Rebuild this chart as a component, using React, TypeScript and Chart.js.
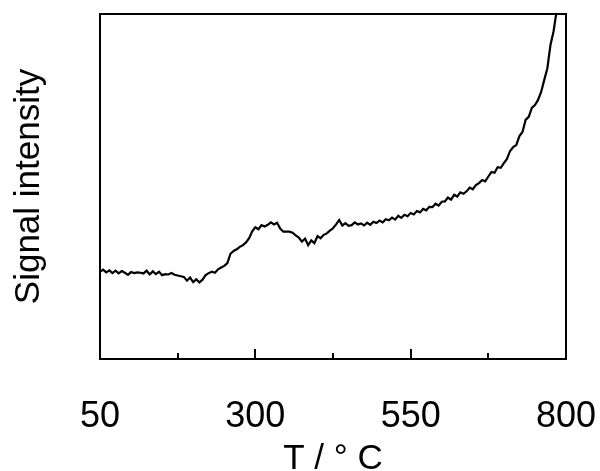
import React, { useEffect, useRef } from "react";
import { Chart, registerables } from "chart.js";

Chart.register(...registerables);

// Temperature axis (°C)
const temperatures: number[] = [
  50, 55, 60, 65, 70, 75, 80, 85, 90, 95,
  100, 105, 110, 115, 120, 125, 130, 135, 140, 145,
  150, 155, 160, 165, 170, 175, 180, 185, 190, 195,
  200, 205, 210, 215, 220, 225, 230, 235, 240, 245,
  250, 255, 260, 265, 270, 275, 280, 285, 290, 295,
  300, 305, 310, 315, 320, 325, 330, 335, 340, 345,
  350, 355, 360, 365, 370, 375, 380, 385, 390, 395,
  400, 405, 410, 415, 420, 425, 430, 435, 440, 445,
  450, 455, 460, 465, 470, 475, 480, 485, 490, 495,
  500, 505, 510, 515, 520, 525, 530, 535, 540, 545,
  550, 555, 560, 565, 570, 575, 580, 585, 590, 595,
  600, 605, 610, 615, 620, 625, 630, 635, 640, 645,
  650, 655, 660, 665, 670, 675, 680, 685, 690, 695,
  700, 705, 710, 715, 720, 725, 730, 735, 740, 745,
  750, 755, 760, 765, 770, 775, 780, 785, 790,
];

// Signal intensity (arbitrary units)
const signal: number[] = [
  25.3, 25.9, 25.1, 25.7, 24.9, 25.6, 24.8, 25.5, 25.0, 24.4,
  25.2, 24.9, 25.1, 25.0, 24.8, 25.6, 24.5, 25.4, 24.6, 25.3,
  24.3, 24.6, 24.5, 24.9, 24.4, 24.2, 24.0, 23.8, 22.7, 23.6,
  22.3, 23.1, 22.2, 23.0, 24.3, 24.9, 25.3, 25.0, 26.0, 26.5,
  27.0, 27.8, 30.5, 31.3, 31.8, 32.5, 33.0, 33.8, 35.0, 37.0,
  38.2, 37.6, 38.8, 38.4, 38.9, 39.6, 39.0, 39.5, 37.8, 36.9,
  36.9, 36.9, 36.6, 35.8, 35.2, 34.0, 34.9, 33.0, 34.4, 33.6,
  35.6, 35.0, 36.0, 36.4, 37.2, 37.9, 39.0, 40.3, 38.7, 39.4,
  38.6, 38.8, 39.6, 39.0, 39.3, 38.7, 39.5, 38.9, 39.8, 39.4,
  40.1, 39.6, 40.5, 40.2, 41.0, 40.4, 41.5, 40.9, 41.8, 41.4,
  42.3, 41.9, 42.9, 42.5, 43.5, 43.1, 44.1, 44.0, 45.0, 44.5,
  45.6, 45.7, 46.8, 46.2, 47.6, 47.1, 48.3, 47.9, 48.6, 49.7,
  49.2, 50.4, 51.0, 51.9, 51.5, 52.9, 54.2, 54.0, 55.6, 55.4,
  56.8, 58.0, 60.3, 61.4, 62.0, 64.6, 65.8, 69.3, 70.2, 72.8,
  73.6, 75.1, 77.4, 80.9, 84.3, 91.0, 95.0, 101.0, 106.0,
];

const tickValues: number[] = [50, 175, 300, 425, 550, 675, 800];
const labeledTicks: number[] = [50, 300, 550, 800];

const FONT = "'Liberation Sans', Arial, Helvetica, sans-serif";

const framePlugin = {
  id: "frameAndTicks",
  afterDraw(chart: any) {
    const { ctx, chartArea, scales } = chart;
    const xs = scales.x;
    ctx.save();
    ctx.strokeStyle = "#000";
    ctx.lineWidth = 2;
    ctx.strokeRect(
      chartArea.left,
      chartArea.top,
      chartArea.right - chartArea.left,
      chartArea.bottom - chartArea.top
    );
    ctx.beginPath();
    for (const v of tickValues) {
      const px = Math.round(xs.getPixelForValue(v));
      const len = labeledTicks.includes(v) ? 10 : 6;
      ctx.moveTo(px, chartArea.bottom);
      ctx.lineTo(px, chartArea.bottom - len);
    }
    ctx.stroke();
    ctx.restore();
  },
};

export default function App() {
  const ref = useRef<HTMLCanvasElement | null>(null);

  useEffect(() => {
    if (!ref.current) return;
    const chart = new Chart(ref.current, {
      type: "line",
      data: {
        datasets: [
          {
            data: temperatures.map((t, i) => ({ x: t, y: signal[i] })),
            borderColor: "#000",
            borderWidth: 2.2,
            pointRadius: 0,
            tension: 0,
            fill: false,
          },
        ],
      },
      options: {
        animation: false,
        responsive: false,
        devicePixelRatio: 1,
        layout: { padding: { top: 14, right: 0, left: 0, bottom: 0 } },
        plugins: { legend: { display: false }, tooltip: { enabled: false } },
        scales: {
          x: {
            type: "linear",
            min: 50,
            max: 800,
            afterFit: (s: any) => {
              s.height = 112;
              s.paddingLeft = 0;
              s.paddingRight = 34;
            },
            afterBuildTicks: (s: any) => {
              s.ticks = tickValues.map((v) => ({ value: v }));
            },
            grid: { display: false, drawTicks: false },
            border: { display: false },
            ticks: {
              autoSkip: false,
              maxRotation: 0,
              padding: 36,
              color: "#000",
              font: { family: FONT, size: 36 },
              callback: (v: any) => (labeledTicks.includes(Number(v)) ? String(v) : ""),
            },
            title: {
              display: true,
              text: "T / ° C",
              color: "#000",
              font: { family: FONT, size: 35 },
              padding: { top: 0, bottom: -9 },
            },
          },
          y: {
            type: "linear",
            min: 0,
            max: 100,
            afterFit: (s: any) => {
              s.width = 100;
              s.paddingTop = 0;
              s.paddingBottom = 0;
            },
            grid: { display: false, drawTicks: false },
            border: { display: false },
            ticks: { display: false },
            title: {
              display: true,
              text: "Signal intensity",
              color: "#000",
              font: { family: FONT, size: 35 },
              padding: { top: 8, bottom: 0 },
            },
          },
        },
      },
      plugins: [framePlugin],
    });
    return () => chart.destroy();
  }, []);

  return (
    <div style={{ position: "absolute", left: 0, top: 0, width: 600, height: 471 }}>
      <canvas ref={ref} width={600} height={471} />
    </div>
  );
}
